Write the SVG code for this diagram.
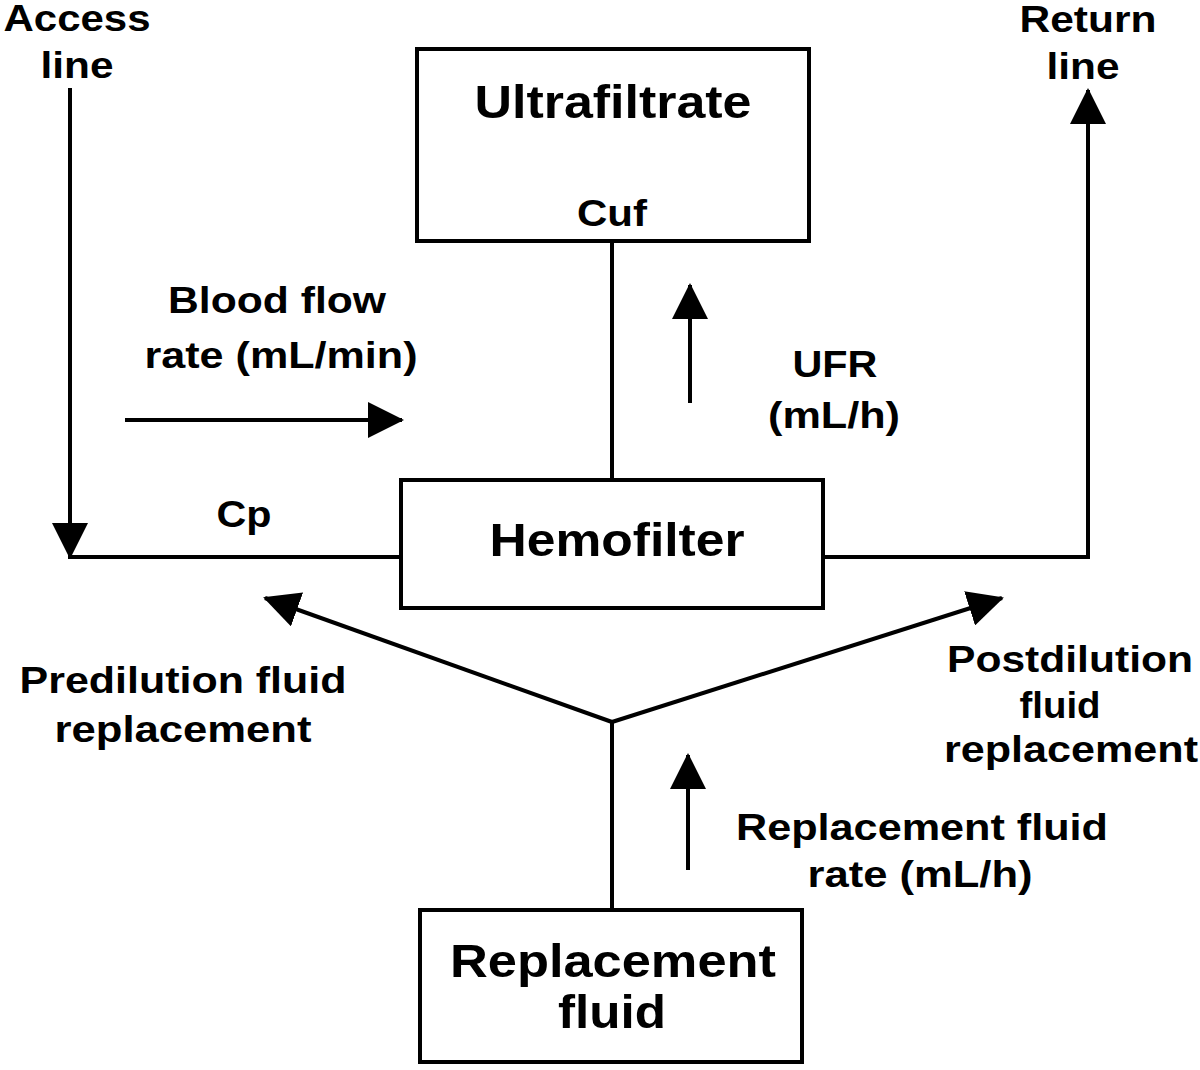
<svg xmlns="http://www.w3.org/2000/svg" width="1200" height="1070" viewBox="0 0 1200 1070">
<defs>
<marker id="ah" viewBox="0 0 36 36" markerWidth="36" markerHeight="36" markerUnits="userSpaceOnUse" refX="34" refY="18" orient="auto">
<path d="M0,0 L36,18 L0,36 Z" fill="#000"/>
</marker>
</defs>
<style>
text{font-family:"Liberation Sans",Arial,sans-serif;font-weight:bold;fill:#000;text-anchor:middle;font-size:36px}
.big{font-size:46px}
.box{fill:#fff;stroke:#000;stroke-width:4}
.ln{fill:none;stroke:#000;stroke-width:4}
.arr{fill:none;stroke:#000;stroke-width:4;marker-end:url(#ah)}
</style>
<rect width="1200" height="1070" fill="#fff"/>
<g id="connectors">
<polyline class="ln" points="70,88 70,557 401,557"/>
<line class="arr" x1="70" y1="500" x2="70" y2="557"/>
<polyline class="ln" points="823,557 1088,557 1088,120"/>
<line class="arr" x1="1088" y1="140" x2="1088" y2="90"/>
<line class="ln" x1="612" y1="241" x2="612" y2="480"/>
<line class="arr" x1="125" y1="420" x2="402" y2="420"/>
<line class="arr" x1="690" y1="403" x2="690" y2="285"/>
<line class="ln" x1="612" y1="722" x2="612" y2="910"/>
<line class="arr" x1="612" y1="722" x2="265" y2="598"/>
<line class="arr" x1="612" y1="722" x2="1002" y2="598"/>
<line class="arr" x1="688" y1="870" x2="688" y2="755"/>
</g>
<g id="ultrafiltrate">
<rect class="box" x="417" y="49" width="392" height="192"/>
<text class="big" x="613" y="118" textLength="277" lengthAdjust="spacingAndGlyphs">Ultrafiltrate</text>
<text x="612" y="226" textLength="70" lengthAdjust="spacingAndGlyphs">Cuf</text>
</g>
<g id="hemofilter">
<rect class="box" x="401" y="480" width="422" height="128"/>
<text class="big" x="617" y="556" textLength="255" lengthAdjust="spacingAndGlyphs">Hemofilter</text>
</g>
<g id="replacement-fluid">
<rect class="box" x="420" y="910" width="382" height="152"/>
<text class="big" x="613" y="977" textLength="326" lengthAdjust="spacingAndGlyphs">Replacement</text>
<text class="big" x="612" y="1028" textLength="108" lengthAdjust="spacingAndGlyphs">fluid</text>
</g>
<g id="labels">
<text x="77" y="31" textLength="147" lengthAdjust="spacingAndGlyphs">Access</text>
<text x="77" y="78" textLength="73" lengthAdjust="spacingAndGlyphs">line</text>
<text x="1088" y="32" textLength="137" lengthAdjust="spacingAndGlyphs">Return</text>
<text x="1083" y="79" textLength="73" lengthAdjust="spacingAndGlyphs">line</text>
<text x="277" y="313" textLength="218" lengthAdjust="spacingAndGlyphs">Blood flow</text>
<text x="281" y="368" textLength="273" lengthAdjust="spacingAndGlyphs">rate (mL/min)</text>
<text x="835" y="377" textLength="85" lengthAdjust="spacingAndGlyphs">UFR</text>
<text x="834" y="428" textLength="132" lengthAdjust="spacingAndGlyphs">(mL/h)</text>
<text x="244" y="527" textLength="55" lengthAdjust="spacingAndGlyphs">Cp</text>
<text x="183" y="693" textLength="327" lengthAdjust="spacingAndGlyphs">Predilution fluid</text>
<text x="183" y="742" textLength="257" lengthAdjust="spacingAndGlyphs">replacement</text>
<text x="1070" y="672" textLength="246" lengthAdjust="spacingAndGlyphs">Postdilution</text>
<text x="1060" y="718" textLength="81" lengthAdjust="spacingAndGlyphs">fluid</text>
<text x="1071" y="762" textLength="254" lengthAdjust="spacingAndGlyphs">replacement</text>
<text x="922" y="840" textLength="372" lengthAdjust="spacingAndGlyphs">Replacement fluid</text>
<text x="920" y="887" textLength="225" lengthAdjust="spacingAndGlyphs">rate (mL/h)</text>
</g>
</svg>
